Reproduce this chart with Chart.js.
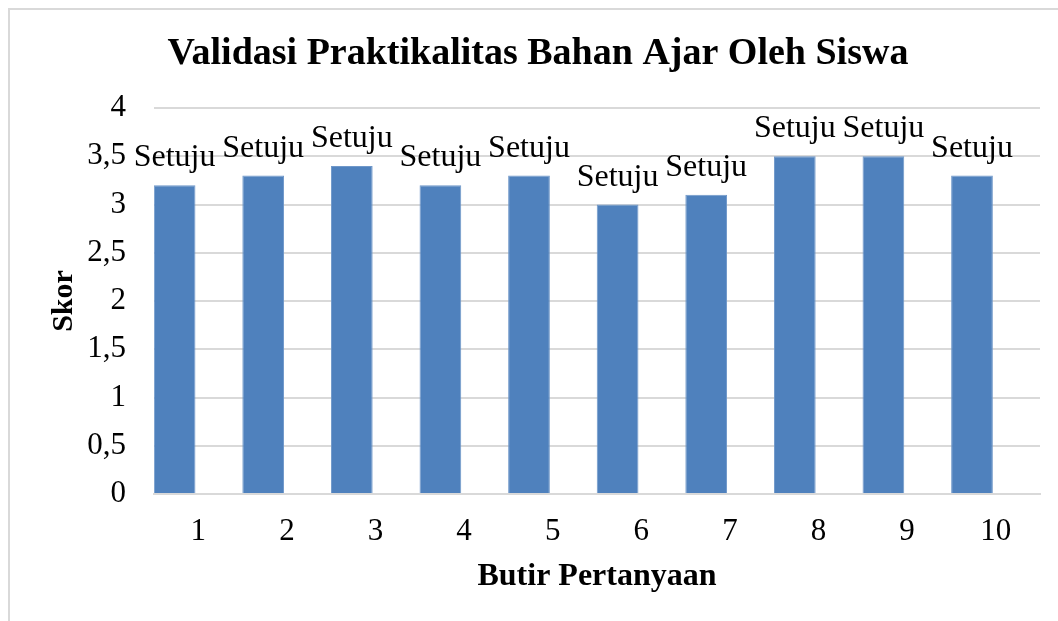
<!DOCTYPE html>
<html>
<head>
<meta charset="utf-8">
<script src="https://cdn.jsdelivr.net/npm/chart.js@4/dist/chart.umd.min.js"></script>
<style>
  body { margin: 0; background: #fff; }
  #wrap { width: 1058px; height: 621px; }
</style>
</head>
<body>
<div id="wrap"><canvas id="chart"></canvas></div>
<script>
// Chart data
const categories = ['1', '2', '3', '4', '5', '6', '7', '8', '9', '10'];
const scores = [3.2, 3.3, 3.4, 3.2, 3.3, 3.0, 3.1, 3.5, 3.5, 3.3];
const labels = ['Setuju', 'Setuju', 'Setuju', 'Setuju', 'Setuju', 'Setuju', 'Setuju', 'Setuju', 'Setuju', 'Setuju'];
const emptySeries = [null, null, null, null, null, null, null, null, null, null];
const yTicks = [0, 0.5, 1, 1.5, 2, 2.5, 3, 3.5, 4];

const serif = "'Liberation Serif', 'Times New Roman', serif";
const gridGray = '#d9d9d9';

// White background and the light frame around the chart
const framePlugin = {
    id: 'frame',
    beforeDraw(chart) {
        const ctx = chart.ctx;
        ctx.save();
        ctx.fillStyle = '#fff';
        ctx.fillRect(0, 0, chart.width, chart.height);
        ctx.strokeStyle = gridGray;
        ctx.lineWidth = 2;
        ctx.strokeRect(9, 9, chart.width + 40, chart.height + 40);
        ctx.restore();
    }
};

// "Setuju" text above each bar
const barLabelPlugin = {
    id: 'barLabels',
    afterDatasetsDraw(chart) {
        const ctx = chart.ctx;
        const meta = chart.getDatasetMeta(0);
        ctx.save();
        ctx.font = '32px ' + serif;
        ctx.fillStyle = '#000';
        ctx.textAlign = 'center';
        ctx.textBaseline = 'alphabetic';
        meta.data.forEach((bar, i) => {
            ctx.fillText(labels[i], bar.x, bar.y - 19);
        });
        ctx.restore();
    }
};

document.addEventListener('DOMContentLoaded', function() {
    const ctx = document.getElementById('chart');
    new Chart(ctx, {
        type: 'bar',
        data: {
            labels: categories,
            datasets: [{
                label: 'Skor',
                data: scores,
                backgroundColor: '#4f81bd',
                borderColor: '#6f97c9',
                borderWidth: 1,
                categoryPercentage: 1.07,
                barPercentage: 0.88
            }, {
                label: '',
                data: emptySeries,
                backgroundColor: 'rgba(0,0,0,0)',
                categoryPercentage: 1.07,
                barPercentage: 0.88
            }]
        },
        options: {
            responsive: true,
            maintainAspectRatio: false,
            animation: false,
            layout: {
                padding: { left: 36, right: 18, top: 0, bottom: 0 }
            },
            plugins: {
                legend: { display: false },
                tooltip: { enabled: false },
                title: {
                    display: true,
                    text: 'Validasi Praktikalitas Bahan Ajar Oleh Siswa',
                    color: '#000',
                    font: { family: serif, size: 38, weight: 'bold' },
                    padding: { top: 31.4, bottom: 31 }
                }
            },
            scales: {
                x: {
                    grid: { display: false, drawTicks: false },
                    border: { display: true, color: gridGray, width: 2 },
                    ticks: {
                        color: '#000',
                        font: { family: serif, size: 31 },
                        padding: 19,
                        maxRotation: 0
                    },
                    title: {
                        display: true,
                        text: 'Butir Pertanyaan',
                        color: '#000',
                        font: { family: serif, size: 32, weight: 'bold' },
                        padding: { top: 0, bottom: 25 }
                    },
                    afterFit(scale) { scale.height = 127; }
                },
                y: {
                    min: 0,
                    max: 4,
                    afterBuildTicks(scale) {
                        scale.ticks = yTicks.map(v => ({ value: v }));
                    },
                    grid: { color: gridGray, lineWidth: 2, drawTicks: false },
                    border: { display: false },
                    ticks: {
                        color: '#000',
                        font: { family: serif, size: 31 },
                        padding: 28,
                        callback: v => String(v).replace('.', ',')
                    },
                    title: {
                        display: true,
                        text: 'Skor',
                        color: '#000',
                        font: { family: serif, size: 30, weight: 'bold' },
                        padding: { top: 10, bottom: 0 }
                    },
                    afterFit(scale) { scale.width = 118; }
                }
            }
        },
        plugins: [framePlugin, barLabelPlugin]
    });
});
</script>
</body>
</html>
